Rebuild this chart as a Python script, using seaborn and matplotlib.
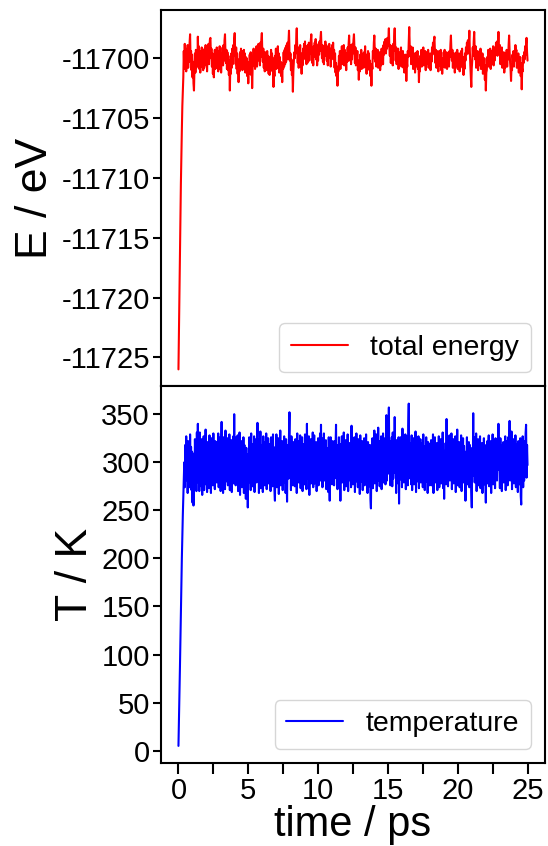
import numpy as np
import pandas as pd
import matplotlib
matplotlib.use("Agg")
import matplotlib.pyplot as plt
import seaborn as sns
from matplotlib.ticker import MultipleLocator

# ---------------- data ----------------
t_start, t_end = 0.0, 25.0

temperature_K = [
    5, 30, 55, 85, 115, 145, 175, 200, 225, 245, 262, 282, 300, 274, 318, 281, 327, 290, 312, 268,
    322, 279, 305, 274, 329, 286, 316, 271, 311, 258, 296, 255, 309, 277, 324, 287, 318, 270, 331, 284,
    340, 279, 316, 270, 331, 288, 309, 275, 324, 266, 318, 292, 327, 271, 313, 284, 334, 277, 306, 269,
    321, 283, 317, 273, 328, 290, 312, 268, 325, 281, 310, 276, 330, 287, 315, 272, 322, 294, 308, 279,
    321, 287, 330, 274, 315, 283, 326, 270, 311, 342, 285, 319, 268, 326, 293, 319, 272, 333, 280, 308,
    291, 325, 276, 314, 288, 329, 271, 317, 284, 323, 269, 310, 292, 327, 278, 350, 283, 315, 276, 326,
    312, 285, 328, 270, 317, 289, 331, 266, 309, 281, 322, 274, 314, 288, 326, 268, 318, 282, 305, 262,
    315, 277, 308, 253, 297, 279, 326, 286, 314, 271, 330, 284, 319, 275, 312, 290, 327, 269, 316, 283,
    324, 279, 307, 341, 287, 315, 268, 324, 291, 332, 273, 318, 283, 310, 269, 327, 292, 313, 276, 321,
    285, 330, 272, 316, 289, 325, 278, 309, 293, 319, 270, 326, 284, 312, 275, 329, 288, 301, 271, 260,
    316, 281, 329, 274, 311, 289, 325, 267, 320, 284, 333, 276, 314, 286, 322, 271, 308, 290, 327, 279,
    315, 268, 324, 287, 259, 306, 318, 283, 329, 352, 288, 318, 271, 327, 282, 313, 276, 321, 290, 309,
    275, 324, 290, 313, 268, 330, 283, 317, 279, 322, 286, 328, 273, 315, 292, 326, 270, 319, 285, 311,
    277, 329, 288, 316, 272, 340, 283, 315, 293, 327, 266, 311, 285, 324, 278, 318, 289, 331, 274, 313,
    328, 278, 316, 289, 321, 270, 307, 284, 325, 276, 318, 292, 330, 281, 339, 284, 325, 274, 312, 291,
    330, 281, 318, 287, 323, 272, 315, 290, 309, 269, 326, 283, 260, 305, 326, 287, 316, 277, 322, 285,
    313, 276, 322, 291, 317, 339, 283, 310, 272, 318, 285, 326, 279, 308, 260, 319, 292, 327, 279, 315,
    286, 331, 271, 308, 290, 323, 275, 316, 288, 329, 270, 314, 293, 320, 281, 311, 274, 338, 287, 318,
    277, 314, 288, 326, 269, 318, 293, 330, 280, 311, 274, 324, 285, 316, 267, 328, 291, 309, 280, 322,
    271, 317, 289, 325, 276, 312, 294, 329, 282, 314, 268, 321, 287, 309, 275, 318, 262, 252, 303, 284,
    325, 273, 319, 290, 333, 278, 312, 287, 329, 270, 317, 292, 336, 281, 322, 275, 314, 289, 327, 272,
    318, 286, 330, 279, 311, 294, 325, 277, 316, 349, 281, 330, 288, 319, 357, 294, 322, 276, 315, 289,
    326, 275, 331, 283, 317, 292, 347, 289, 315, 268, 323, 281, 308, 278, 326, 257, 304, 282, 326, 293,
    318, 274, 335, 287, 322, 279, 313, 291, 329, 272, 318, 285, 327, 276, 338, 361, 296, 320, 283, 314,
    277, 328, 271, 314, 290, 325, 277, 311, 286, 332, 269, 318, 294, 306, 280, 327, 273, 315, 288, 324,
    279, 312, 293, 320, 274, 329, 286, 310, 271, 317, 290, 326, 280, 313, 268, 321, 289, 308, 276, 319,
    284, 323, 276, 310, 291, 329, 268, 317, 285, 326, 279, 312, 293, 320, 271, 316, 288, 327, 274, 309,
    290, 324, 278, 315, 286, 331, 273, 312, 262, 308, 289, 320, 277, 345, 284, 323, 275, 316, 292, 328,
    281, 316, 289, 330, 272, 313, 287, 324, 278, 309, 292, 327, 269, 318, 283, 334, 276, 311, 290, 321,
    274, 315, 286, 328, 270, 312, 293, 325, 279, 317, 284, 305, 260, 311, 290, 326, 277, 319, 288, 321,
    274, 318, 285, 309, 270, 253, 315, 286, 351, 286, 326, 279, 312, 293, 330, 270, 317, 288, 324, 276,
    309, 291, 327, 273, 315, 284, 320, 268, 313, 289, 325, 277, 318, 282, 258, 303, 291, 322, 278, 314,
    328, 275, 314, 289, 322, 268, 316, 284, 329, 277, 318, 290, 311, 273, 325, 287, 318, 281, 307, 294,
    340, 292, 311, 273, 325, 287, 318, 270, 307, 294, 321, 279, 313, 288, 327, 271, 316, 285, 322, 276,
    326, 290, 311, 343, 281, 317, 290, 332, 272, 313, 286, 324, 278, 311, 291, 328, 274, 319, 283, 315,
    269, 322, 288, 309, 277, 325, 265, 256, 305, 288, 327, 274, 316, 281, 322, 289, 330, 339, 284, 318,
    297,
]

energy_eV = [
    -11726.0, -11722.8, -11719.5, -11716.2, -11713.0, -11710.5, -11708.0, -11706.0, -11704.0, -11702.8,
    -11701.6, -11699.4, -11700.9, -11698.8, -11700.6, -11699.2, -11701.1, -11699.5, -11700.4, -11698.9,
    -11700.8, -11699.6, -11700.3, -11698.7, -11698.0, -11700.2, -11699.4, -11701.0, -11699.7, -11701.6,
    -11700.3, -11702.1, -11702.7, -11700.9, -11699.6, -11701.2, -11699.3, -11700.8, -11699.5, -11700.6,
    -11698.2, -11700.1, -11699.0, -11700.9, -11699.4, -11701.2, -11699.8, -11700.7, -11699.1, -11700.5,
    -11699.3, -11701.0, -11699.6, -11700.8, -11699.2, -11700.4, -11698.9, -11700.6, -11699.5, -11701.1,
    -11699.7, -11700.3, -11698.8, -11700.5, -11699.0, -11698.4, -11698.3, -11700.0, -11699.2, -11700.7,
    -11699.6, -11701.3, -11700.2, -11701.6, -11700.4, -11699.3, -11700.9, -11699.5, -11700.6, -11699.1,
    -11700.8, -11699.4, -11701.1, -11699.7, -11700.5, -11699.0, -11700.9, -11699.6, -11701.2, -11699.8,
    -11700.4, -11699.1, -11700.6, -11698.9, -11700.2, -11698.5, -11698.0, -11699.7, -11700.4, -11699.3,
    -11700.9, -11699.5, -11701.0, -11699.8, -11701.4, -11700.2, -11702.7, -11700.6, -11701.3, -11699.6,
    -11700.8, -11699.2, -11700.5, -11698.9, -11699.8, -11698.4, -11697.9, -11699.6, -11700.5, -11699.1,
    -11700.9, -11699.6, -11701.3, -11700.1, -11702.0, -11700.4, -11701.1, -11699.5, -11700.7, -11699.2,
    -11700.6, -11699.4, -11701.0, -11699.7, -11700.8, -11699.3, -11700.5, -11699.6, -11701.2, -11699.9,
    -11700.7, -11700.0, -11701.5, -11700.3, -11702.1, -11700.6, -11701.3, -11699.7, -11700.9, -11699.5,
    -11701.4, -11700.2, -11702.5, -11700.8, -11700.1, -11699.2, -11700.6, -11699.4, -11700.9, -11699.6,
    -11700.4, -11699.0, -11700.7, -11699.5, -11700.2, -11698.8, -11700.1, -11699.3, -11700.6, -11698.7,
    -11699.9, -11698.5, -11697.9, -11699.6, -11700.3, -11699.2, -11700.8, -11699.7, -11701.1, -11699.5,
    -11700.6, -11699.9, -11701.0, -11699.4, -11700.7, -11699.8, -11701.3, -11700.1, -11701.4, -11699.9,
    -11700.8, -11699.3, -11700.5, -11699.6, -11701.1, -11700.0, -11702.4, -11700.7, -11701.5, -11699.8,
    -11700.6, -11699.2, -11700.9, -11699.7, -11700.3, -11699.0, -11700.8, -11699.6, -11701.2, -11699.9,
    -11701.0, -11700.3, -11701.5, -11700.6, -11702.0, -11700.4, -11700.9, -11699.5, -11700.7, -11699.3,
    -11700.5, -11699.1, -11700.3, -11698.9, -11699.8, -11698.7, -11700.1, -11698.6, -11697.7, -11699.4,
    -11700.2, -11699.6, -11701.0, -11700.1, -11701.4, -11700.7, -11702.8, -11701.1, -11700.2, -11699.5,
    -11700.0, -11698.9, -11699.6, -11698.4, -11697.5, -11699.2, -11700.4, -11699.1, -11700.8, -11699.5,
    -11700.3, -11698.9, -11700.7, -11699.6, -11701.3, -11699.8, -11700.6, -11699.2, -11700.1, -11698.8,
    -11699.9, -11698.6, -11699.7, -11699.0, -11700.5, -11699.3, -11700.4, -11698.9, -11699.8, -11698.7,
    -11700.2, -11699.1, -11699.6, -11698.5, -11698.0, -11699.3, -11700.4, -11699.2, -11700.6, -11699.0,
    -11699.9, -11698.7, -11699.5, -11698.4, -11700.1, -11699.0, -11700.6, -11699.3, -11700.2, -11698.8,
    -11699.7, -11698.6, -11699.4, -11698.3, -11697.8, -11699.1, -11700.0, -11698.9, -11700.3, -11699.2,
    -11700.5, -11699.0, -11699.8, -11698.6, -11699.5, -11698.9, -11700.2, -11699.1, -11700.6, -11699.4,
    -11700.0, -11698.8, -11699.9, -11699.2, -11700.7, -11699.5, -11700.1, -11698.9, -11699.6, -11698.7,
    -11700.0, -11699.3, -11700.8, -11699.6, -11701.2, -11700.4, -11701.5, -11700.7, -11702.3, -11700.9,
    -11701.1, -11699.8, -11700.6, -11699.4, -11700.9, -11699.5, -11700.3, -11699.0, -11700.5, -11699.2,
    -11700.1, -11698.9, -11700.6, -11699.3, -11700.4, -11699.7, -11701.0, -11699.6, -11700.3, -11699.1,
    -11700.2, -11698.8, -11698.1, -11699.4, -11700.2, -11698.9, -11700.5, -11699.3, -11700.1, -11698.8,
    -11699.6, -11698.5, -11698.0, -11699.3, -11700.4, -11699.1, -11700.6, -11699.5, -11700.2, -11699.4,
    -11701.0, -11700.2, -11701.8, -11700.5, -11701.1, -11699.7, -11700.4, -11699.3, -11700.9, -11699.8,
    -11700.5, -11699.6, -11700.8, -11699.5, -11700.1, -11699.0, -11700.7, -11699.7, -11701.3, -11700.2,
    -11700.8, -11699.4, -11700.3, -11699.6, -11701.0, -11700.2, -11701.5, -11700.6, -11702.3, -11700.5,
    -11700.9, -11699.4, -11700.0, -11698.7, -11698.1, -11699.5, -11700.3, -11699.2, -11700.7, -11699.6,
    -11700.1, -11699.3, -11700.8, -11699.7, -11700.4, -11699.5, -11701.0, -11699.9, -11700.6, -11699.2,
    -11700.0, -11699.3, -11700.5, -11698.9, -11699.7, -11698.6, -11699.4, -11698.4, -11699.6, -11698.7,
    -11699.2, -11698.3, -11699.0, -11698.4, -11697.5, -11699.1, -11699.8, -11698.9, -11700.4, -11699.3,
    -11700.1, -11699.0, -11700.6, -11698.8, -11699.4, -11698.2, -11697.5, -11699.0, -11700.2, -11699.1,
    -11700.5, -11699.4, -11700.0, -11699.2, -11700.9, -11699.8, -11700.4, -11699.5, -11700.1, -11699.1,
    -11700.7, -11699.6, -11700.3, -11699.4, -11700.8, -11699.7, -11701.2, -11700.1, -11700.6, -11699.7,
    -11701.9, -11700.3, -11700.7, -11699.4, -11699.9, -11698.6, -11697.4, -11698.9, -11699.8, -11699.0,
    -11700.5, -11699.4, -11700.2, -11699.1, -11700.9, -11699.8, -11700.5, -11699.6, -11701.2, -11700.0,
    -11700.7, -11699.5, -11700.3, -11699.4, -11700.9, -11700.1, -11702.0, -11700.6, -11701.1, -11699.8,
    -11700.4, -11699.3, -11700.7, -11699.5, -11700.0, -11699.1, -11700.6, -11699.6, -11700.2, -11699.4,
    -11701.0, -11699.9, -11700.5, -11699.5, -11700.1, -11699.3, -11700.8, -11699.7, -11700.4, -11699.6,
    -11701.0, -11699.8, -11700.3, -11699.1, -11699.7, -11698.7, -11699.4, -11698.5, -11698.2, -11699.5,
    -11700.4, -11699.3, -11700.8, -11699.7, -11700.3, -11699.4, -11701.1, -11699.9, -11700.6, -11699.4,
    -11700.2, -11699.3, -11701.0, -11700.0, -11701.3, -11700.2, -11700.7, -11699.5, -11700.2, -11699.3,
    -11700.8, -11699.7, -11700.4, -11699.5, -11700.9, -11699.8, -11700.5, -11699.6, -11700.7, -11699.4,
    -11699.9, -11698.8, -11698.1, -11699.4, -11700.2, -11699.3, -11700.8, -11699.7, -11700.4, -11699.6,
    -11701.2, -11700.1, -11700.7, -11699.5, -11700.2, -11699.3, -11700.9, -11699.8, -11700.5, -11699.6,
    -11701.1, -11700.0, -11700.6, -11699.4, -11700.1, -11699.2, -11700.8, -11699.9, -11701.4, -11700.3,
    -11700.9, -11699.6, -11700.2, -11699.1, -11699.7, -11698.7, -11699.3, -11698.5, -11699.6, -11698.6,
    -11697.7, -11699.4, -11700.6, -11701.5, -11702.4, -11700.8, -11700.2, -11699.1, -11699.8, -11698.6,
    -11697.8, -11699.3, -11700.1, -11699.0, -11700.8, -11699.6, -11700.3, -11699.4, -11701.0, -11699.9,
    -11700.6, -11699.5, -11700.2, -11699.2, -11700.9, -11699.8, -11700.5, -11699.6, -11701.3, -11700.2,
    -11701.0, -11700.0, -11701.8, -11700.6, -11702.7, -11701.2, -11701.0, -11699.9, -11700.4, -11699.3,
    -11700.7, -11699.6, -11700.3, -11699.2, -11700.9, -11699.8, -11700.5, -11699.4, -11700.1, -11699.0,
    -11700.6, -11699.5, -11700.2, -11699.1, -11699.7, -11698.7, -11699.4, -11698.6, -11699.8, -11698.8,
    -11697.8, -11699.0, -11699.6, -11698.9, -11700.5, -11699.4, -11700.0, -11699.1, -11700.8, -11699.7,
    -11700.4, -11699.5, -11701.2, -11700.1, -11700.8, -11699.6, -11700.2, -11699.3, -11700.7, -11699.5,
    -11700.1, -11698.9, -11698.1, -11699.4, -11700.3, -11700.9, -11701.9, -11700.6, -11701.0, -11699.7,
    -11700.3, -11699.4, -11700.7, -11699.6, -11700.2, -11698.9, -11699.6, -11699.3, -11700.8, -11699.9,
    -11700.5, -11699.6, -11701.2, -11700.1, -11700.8, -11699.9, -11701.5, -11700.4, -11702.6, -11700.9,
    -11701.1, -11699.8, -11700.4, -11699.5, -11700.1, -11699.0, -11699.7, -11698.8, -11698.3, -11699.5,
    -11700.2,
]

energy_ticks = [-11725, -11720, -11715, -11710, -11705, -11700]
temp_ticks = [0, 50, 100, 150, 200, 250, 300, 350]
time_ticks = [0, 5, 10, 15, 20, 25]

df_e = pd.DataFrame({"time": np.linspace(t_start, t_end, len(energy_eV)), "energy": energy_eV})
df_t = pd.DataFrame({"time": np.linspace(t_start, t_end, len(temperature_K)),
                     "temperature": temperature_K})

# ---------------- style ----------------
sns.set_theme(style="ticks")
plt.rcParams["font.family"] = ["Liberation Sans", "DejaVu Sans"]
plt.rcParams["axes.unicode_minus"] = False
plt.rcParams["axes.linewidth"] = 1.5
plt.rcParams["axes.edgecolor"] = "black"
for key in ("text.color", "axes.labelcolor", "xtick.color", "ytick.color",
            "xtick.labelcolor", "ytick.labelcolor"):
    plt.rcParams[key] = "black"

fig = plt.figure(figsize=(5.48, 8.46), dpi=100)
gs = fig.add_gridspec(2, 1, left=0.2938, right=0.9945, top=0.9882, bottom=0.0981, hspace=0.0)
ax1 = fig.add_subplot(gs[0])
ax2 = fig.add_subplot(gs[1], sharex=ax1)

sns.lineplot(data=df_e, x="time", y="energy", color="#ff0000", lw=1.5, label="total energy",
             estimator=None, ax=ax1)
sns.lineplot(data=df_t, x="time", y="temperature", color="#0000ff", lw=1.5, label="temperature",
             estimator=None, ax=ax2)

for ax in (ax1, ax2):
    for sp in ax.spines.values():
        sp.set_visible(True)
        sp.set_linewidth(1.5)
        sp.set_color("black")
    ax.tick_params(axis="both", which="both", direction="out", labelsize=21,
                   width=1.5, pad=2, colors="black")
    ax.tick_params(axis="y", length=6)
    ax.tick_params(axis="x", which="both", length=8)
    leg = ax.legend(loc="lower right", fontsize=20.5, frameon=True)
    for line in leg.get_lines():
        line.set_linewidth(1.5)

ax1.set_yticks(energy_ticks)
ax1.ticklabel_format(axis="y", useOffset=False, style="plain")
ax1.tick_params(axis="x", which="both", bottom=False, labelbottom=False)
ax1.set_xlabel("")
ax1.set_ylabel("E / eV", fontsize=32)

ax2.set_yticks(temp_ticks)
ax2.set_xticks(time_ticks)
ax2.xaxis.set_minor_locator(MultipleLocator(2.5))
ax2.set_xlabel("time / ps", fontsize=30, labelpad=0)
ax2.set_ylabel("T / K", fontsize=32)

fig.savefig("out.png", dpi=100)
